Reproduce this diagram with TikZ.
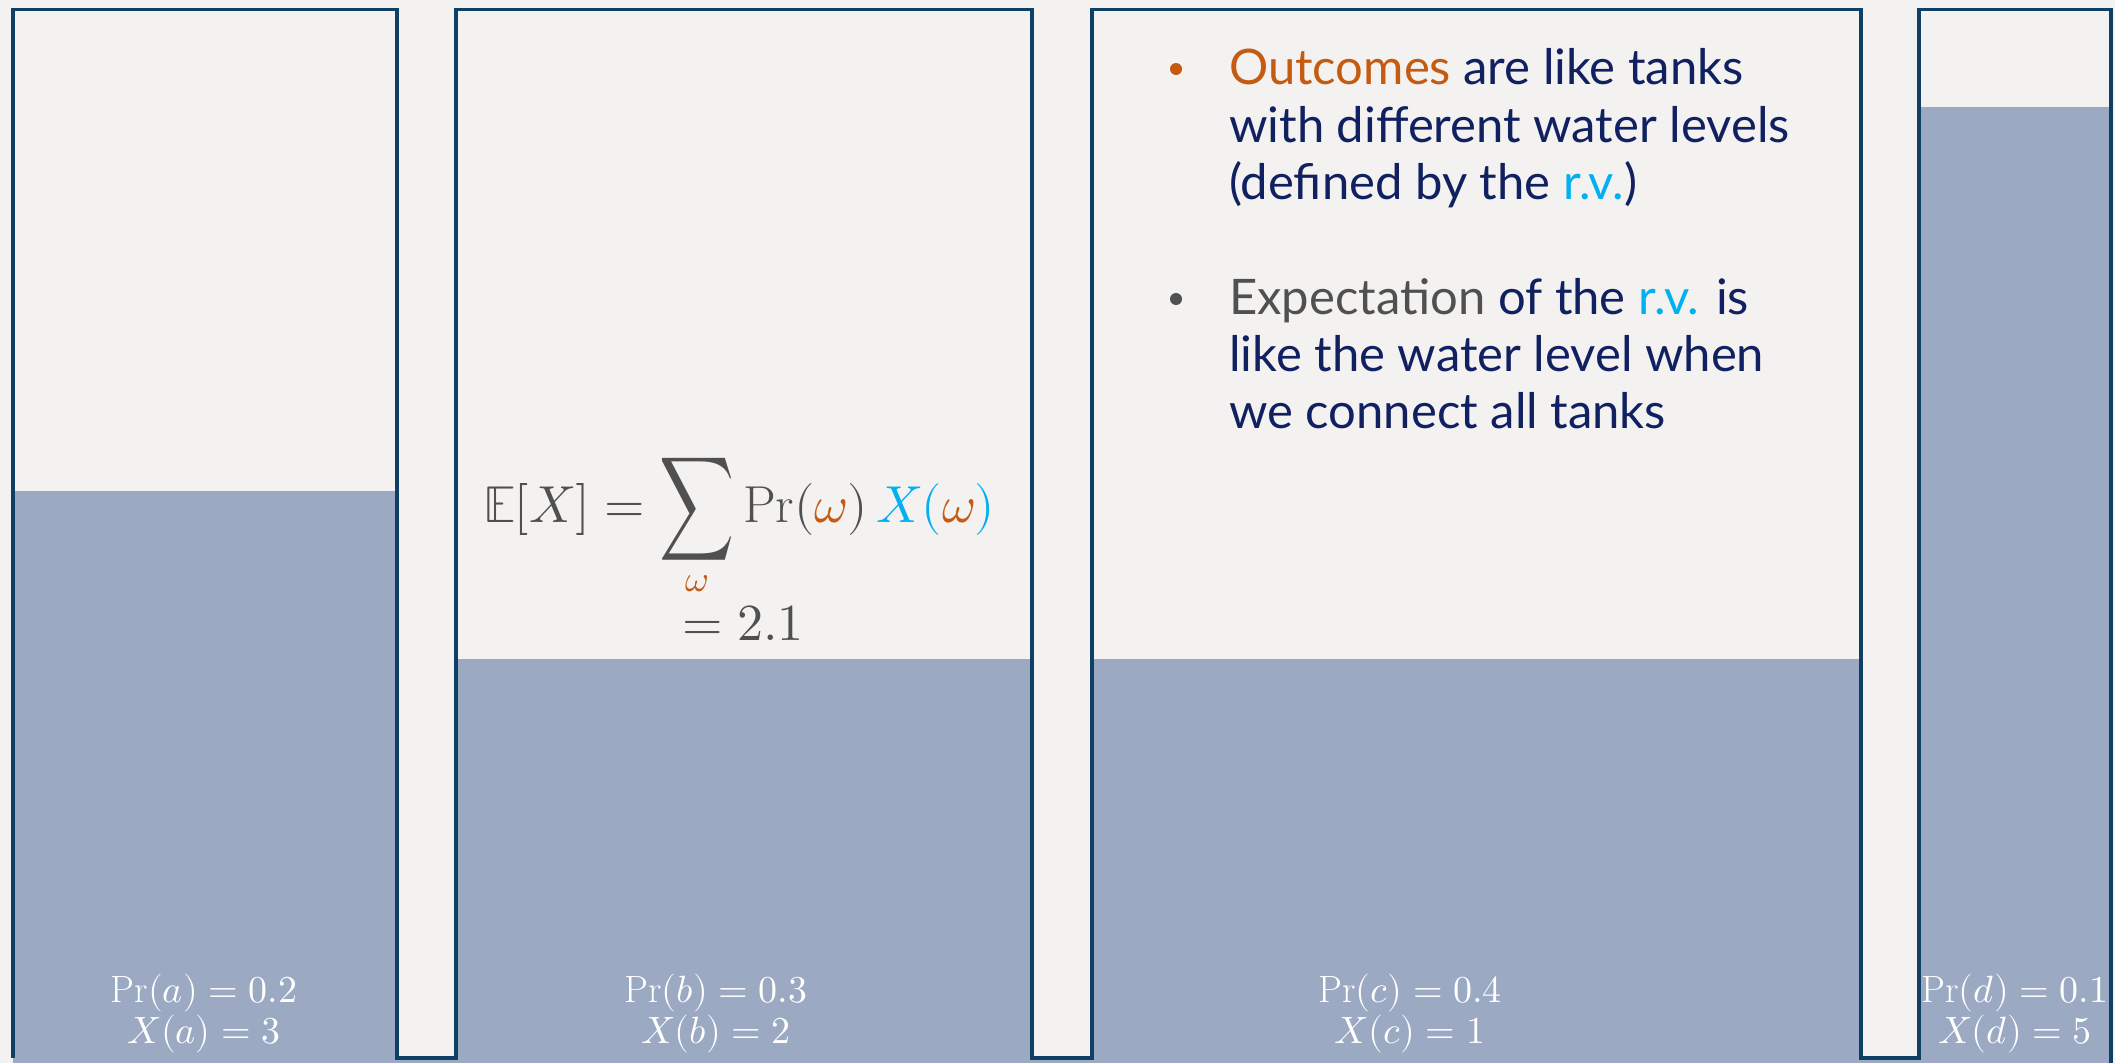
\documentclass[tikz,border=0pt]{standalone}
\usepackage{fontspec}
\usepackage{unicode-math}
\setmathfont{Latin Modern Math}
\newfontfamily\bulletfont{Lato}
\definecolor{bgc}{RGB}{243,242,240}
\definecolor{waterc}{RGB}{155,169,194}
\definecolor{tankc}{RGB}{14,64,102}
\definecolor{navyc}{RGB}{16,32,96}
\definecolor{orangec}{RGB}{197,90,17}
\definecolor{cyanc}{RGB}{0,176,240}
\definecolor{grayc}{RGB}{80,80,80}
\newcommand{\bigsumop}{\mathop{\vcenter{\hbox{\scalebox{1}[1.4]{$\displaystyle\sum$}}}}\limits}
\tikzset{
  water/.style={fill=waterc, draw=none},
  tankline/.style={draw=tankc, line width=3.5pt, line join=miter},
  lbl/.style={text=white, inner sep=0pt, anchor=base, font=\fontsize{38}{44}\selectfont},
  bline/.style={text=navyc, inner sep=0pt, anchor=base west, font=\bulletfont\fontsize{49}{58}\selectfont},
  formula/.style={text=grayc, inner sep=0pt, anchor=base west, font=\fontsize{52}{62}\selectfont},
  dot/.style={circle, inner sep=0pt, minimum size=12pt}
}
\begin{document}
\begin{tikzpicture}[x=1pt,y=-1pt]
\useasboundingbox (0,0) rectangle (2115,1063);
\fill[bgc] (0,0) rectangle (2115,1063);
% water
\fill[water] (13,491) rectangle (397,1063);
\fill[water] (456,659) rectangle (1032,1063);
\fill[water] (1092,659) rectangle (1861,1063);
\fill[water] (1919,107) rectangle (2111,1063);
\fill[water] (13,1058) rectangle (2111,1063);
% tank outlines
\draw[tankline] (13,1058) -- (13,9.5) -- (397,9.5) -- (397,1058) -- (456,1058)
  -- (456,9.5) -- (1032,9.5) -- (1032,1058) -- (1092,1058)
  -- (1092,9.5) -- (1861,9.5) -- (1861,1058) -- (1919,1058)
  -- (1919,9.5) -- (2111,9.5) -- (2111,1063);
% labels
\node[lbl] (pa) at (204,1002) {$\mathrm{Pr}(a)=0.2$};
\node[lbl] (xa) at (204,1043) {$X(a)=3$};
\node[lbl] (pb) at (716,1002) {$\mathrm{Pr}(b)=0.3$};
\node[lbl] (xb) at (716,1043) {$X(b)=2$};
\node[lbl] (pc) at (1410,1002) {$\mathrm{Pr}(c)=0.4$};
\node[lbl] (xc) at (1410,1043) {$X(c)=1$};
\node[lbl] (pd) at (2015,1002) {$\mathrm{Pr}(d)=0.1$};
\node[lbl] (xd) at (2015,1043) {$X(d)=5$};
% formula
\node[formula] (ex) at (483,522) {$\displaystyle \mathbb{E}[X]=\bigsumop_{\textcolor{orangec}{\omega}}\mathrm{Pr}(\textcolor{orangec}{\omega})\,\textcolor{cyanc}{X(\textcolor{orangec}{\omega})}$};
\node[formula] (ev) at (682,640) {$=2.1$};
% bullets
\node[dot, fill=orangec] (b1) at (1176,69) {};
\node[bline] (l1) at (1229,84) {\textcolor{orangec}{Outcomes} are like tanks};
\node[bline] (l2) at (1229,142) {with different water levels};
\node[bline] (l3) at (1229,199) {(defined by the \textcolor{cyanc}{r.v.})};
\node[dot, fill=grayc] (b2) at (1176,299) {};
\node[bline] (l4) at (1229,314) {\textcolor{grayc}{Expectation} of the \textcolor{cyanc}{r.v.} is};
\node[bline] (l5) at (1229,371) {like the water level when};
\node[bline] (l6) at (1229,428) {we connect all tanks};
\end{tikzpicture}
\end{document}
